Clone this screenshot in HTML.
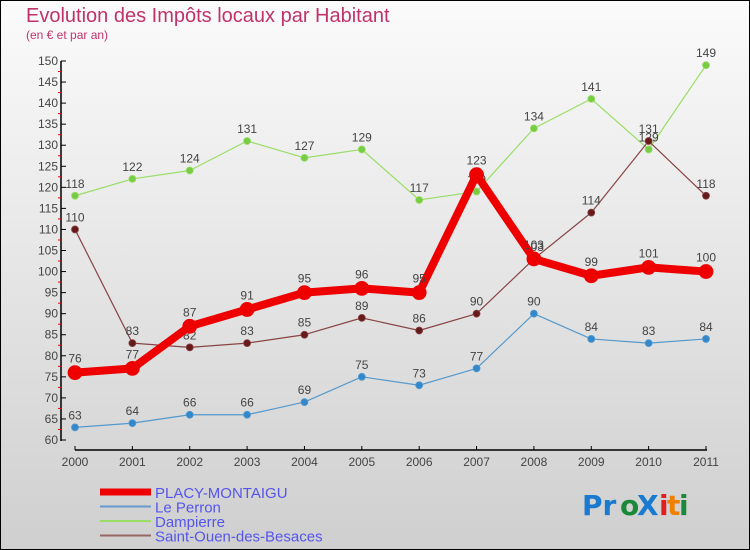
<!DOCTYPE html>
<html><head><meta charset="utf-8"><style>
body{margin:0}
svg{display:block;font-family:"Liberation Sans",sans-serif}
</style></head><body>
<svg id="c" width="750" height="550" viewBox="0 0 750 550">
<defs><linearGradient id="bg" x1="0" y1="0" x2="0" y2="1"><stop offset="0" stop-color="#fbfbfb"/><stop offset="1" stop-color="#cfcfcf"/></linearGradient></defs>
<rect x="0.5" y="0.5" width="749" height="549" fill="url(#bg)" stroke="#000"/>
<text x="26" y="22" font-size="20" fill="#c0336a">Evolution des Impôts locaux par Habitant</text>
<text x="26" y="39" font-size="12" fill="#c0336a">(en € et par an)</text>
<g id="axes"></g><g id="series"></g><g id="legend"></g>
<g font-size="28" font-family="'DejaVu Sans',sans-serif" font-weight="bold">
<text x="582" y="515" fill="#1a7ad0">Pr</text><text x="620" y="515" fill="#1a8a3a">o</text><text x="637" y="515" fill="#1a7ad0">X</text><text x="659" y="515" fill="#e02020">i</text><text x="667" y="515" fill="#f08000">t</text><text x="679" y="515" fill="#1a8a3a">i</text></g>
</svg>
<script>
const years=[2000,2001,2002,2003,2004,2005,2006,2007,2008,2009,2010,2011];
const placy=[76,77,87,91,95,96,95,123,103,99,101,100];
const perron=[63,64,66,66,69,75,73,77,90,84,83,84];
const dampierre=[118,122,124,131,127,129,117,119,134,141,129,149];
const stouen=[110,83,82,83,85,89,86,90,103,114,131,118];
const yTicks=[60,65,70,75,80,85,90,95,100,105,110,115,120,125,130,135,140,145,150];
const NS="http://www.w3.org/2000/svg";
const x=i=>75+i*(706-75)/(years.length-1);
const y=v=>440-(v-60)*(440-61)/90;
function mk(t,a,p){const e=document.createElementNS(NS,t);for(const k in a)e.setAttribute(k,a[k]);p.appendChild(e);return e;}
const ax=document.getElementById('axes');
const yl=mk('line',{x1:61,y1:61,x2:61,y2:441,stroke:'#000','stroke-width':1.5},ax);


yTicks.forEach((v,i)=>{
 mk('line',{x1:61,x2:66,y1:y(v),y2:y(v),stroke:'#000'},ax);
 if(i<yTicks.length-1) mk('line',{x1:58,x2:61,y1:y(v+2.5),y2:y(v+2.5),stroke:'#e00'},ax);
 const t=mk('text',{x:58,y:y(v)+4,'text-anchor':'end','font-size':12,fill:'#444'},ax);t.textContent=v;
 
 
});
const xl=mk('line',{x1:75,y1:450,x2:707,y2:450,stroke:'#000','stroke-width':1.5},ax);


years.forEach((yr,i)=>{
 mk('line',{x1:x(i),x2:x(i),y1:446,y2:450,stroke:'#000'},ax);
 const t=mk('text',{x:x(i),y:466,'text-anchor':'middle','font-size':12,fill:'#444'},ax);t.textContent=yr;
 
 
});
const sg=document.getElementById('series');
function series(name,data,color,w,r,dot){
 const g=mk('g',{},sg);
 
 
 mk('polyline',{points:data.map((v,i)=>x(i)+','+y(v)).join(' '),fill:'none',stroke:color,'stroke-width':w,'stroke-linejoin':'round'},g);
 data.forEach((v,i)=>{
  const c=mk('circle',{cx:x(i),cy:y(v),r:r,fill:dot,stroke:color,'stroke-width':0.8},g);
  
  
  const t=mk('text',{x:x(i),y:y(v)-(w>5?10:8),'text-anchor':'middle','font-size':12,fill:'#444'},g);t.textContent=v;
  
  
 });
}
series('series-dampierre',dampierre,'#99dd66',1.2,3.5,'#77cc44');
series('series-saint-ouen',stouen,'#884444',1.2,3.5,'#661a1a');
series('series-le-perron',perron,'#5599cc',1.2,3.5,'#3388cc');
series('series-placy-montaigu',placy,'#ee0000',8,7,'#ee0000');
const lg=document.getElementById('legend');
[['PLACY-MONTAIGU','#ee0000',7],['Le Perron','#6699cc',2],['Dampierre','#99dd66',2],['Saint-Ouen-des-Besaces','#996666',2]].forEach((d,i)=>{
 const g=mk('g',{},lg);
 
 
 const yy=492+i*14.5;
 mk('line',{x1:100,x2:151,y1:yy,y2:yy,stroke:d[1],'stroke-width':d[2]},g);
 const t=mk('text',{x:155,y:yy+6,'font-size':15,fill:'#5555ee'},g);t.textContent=d[0];
});
</script>
</body></html>
